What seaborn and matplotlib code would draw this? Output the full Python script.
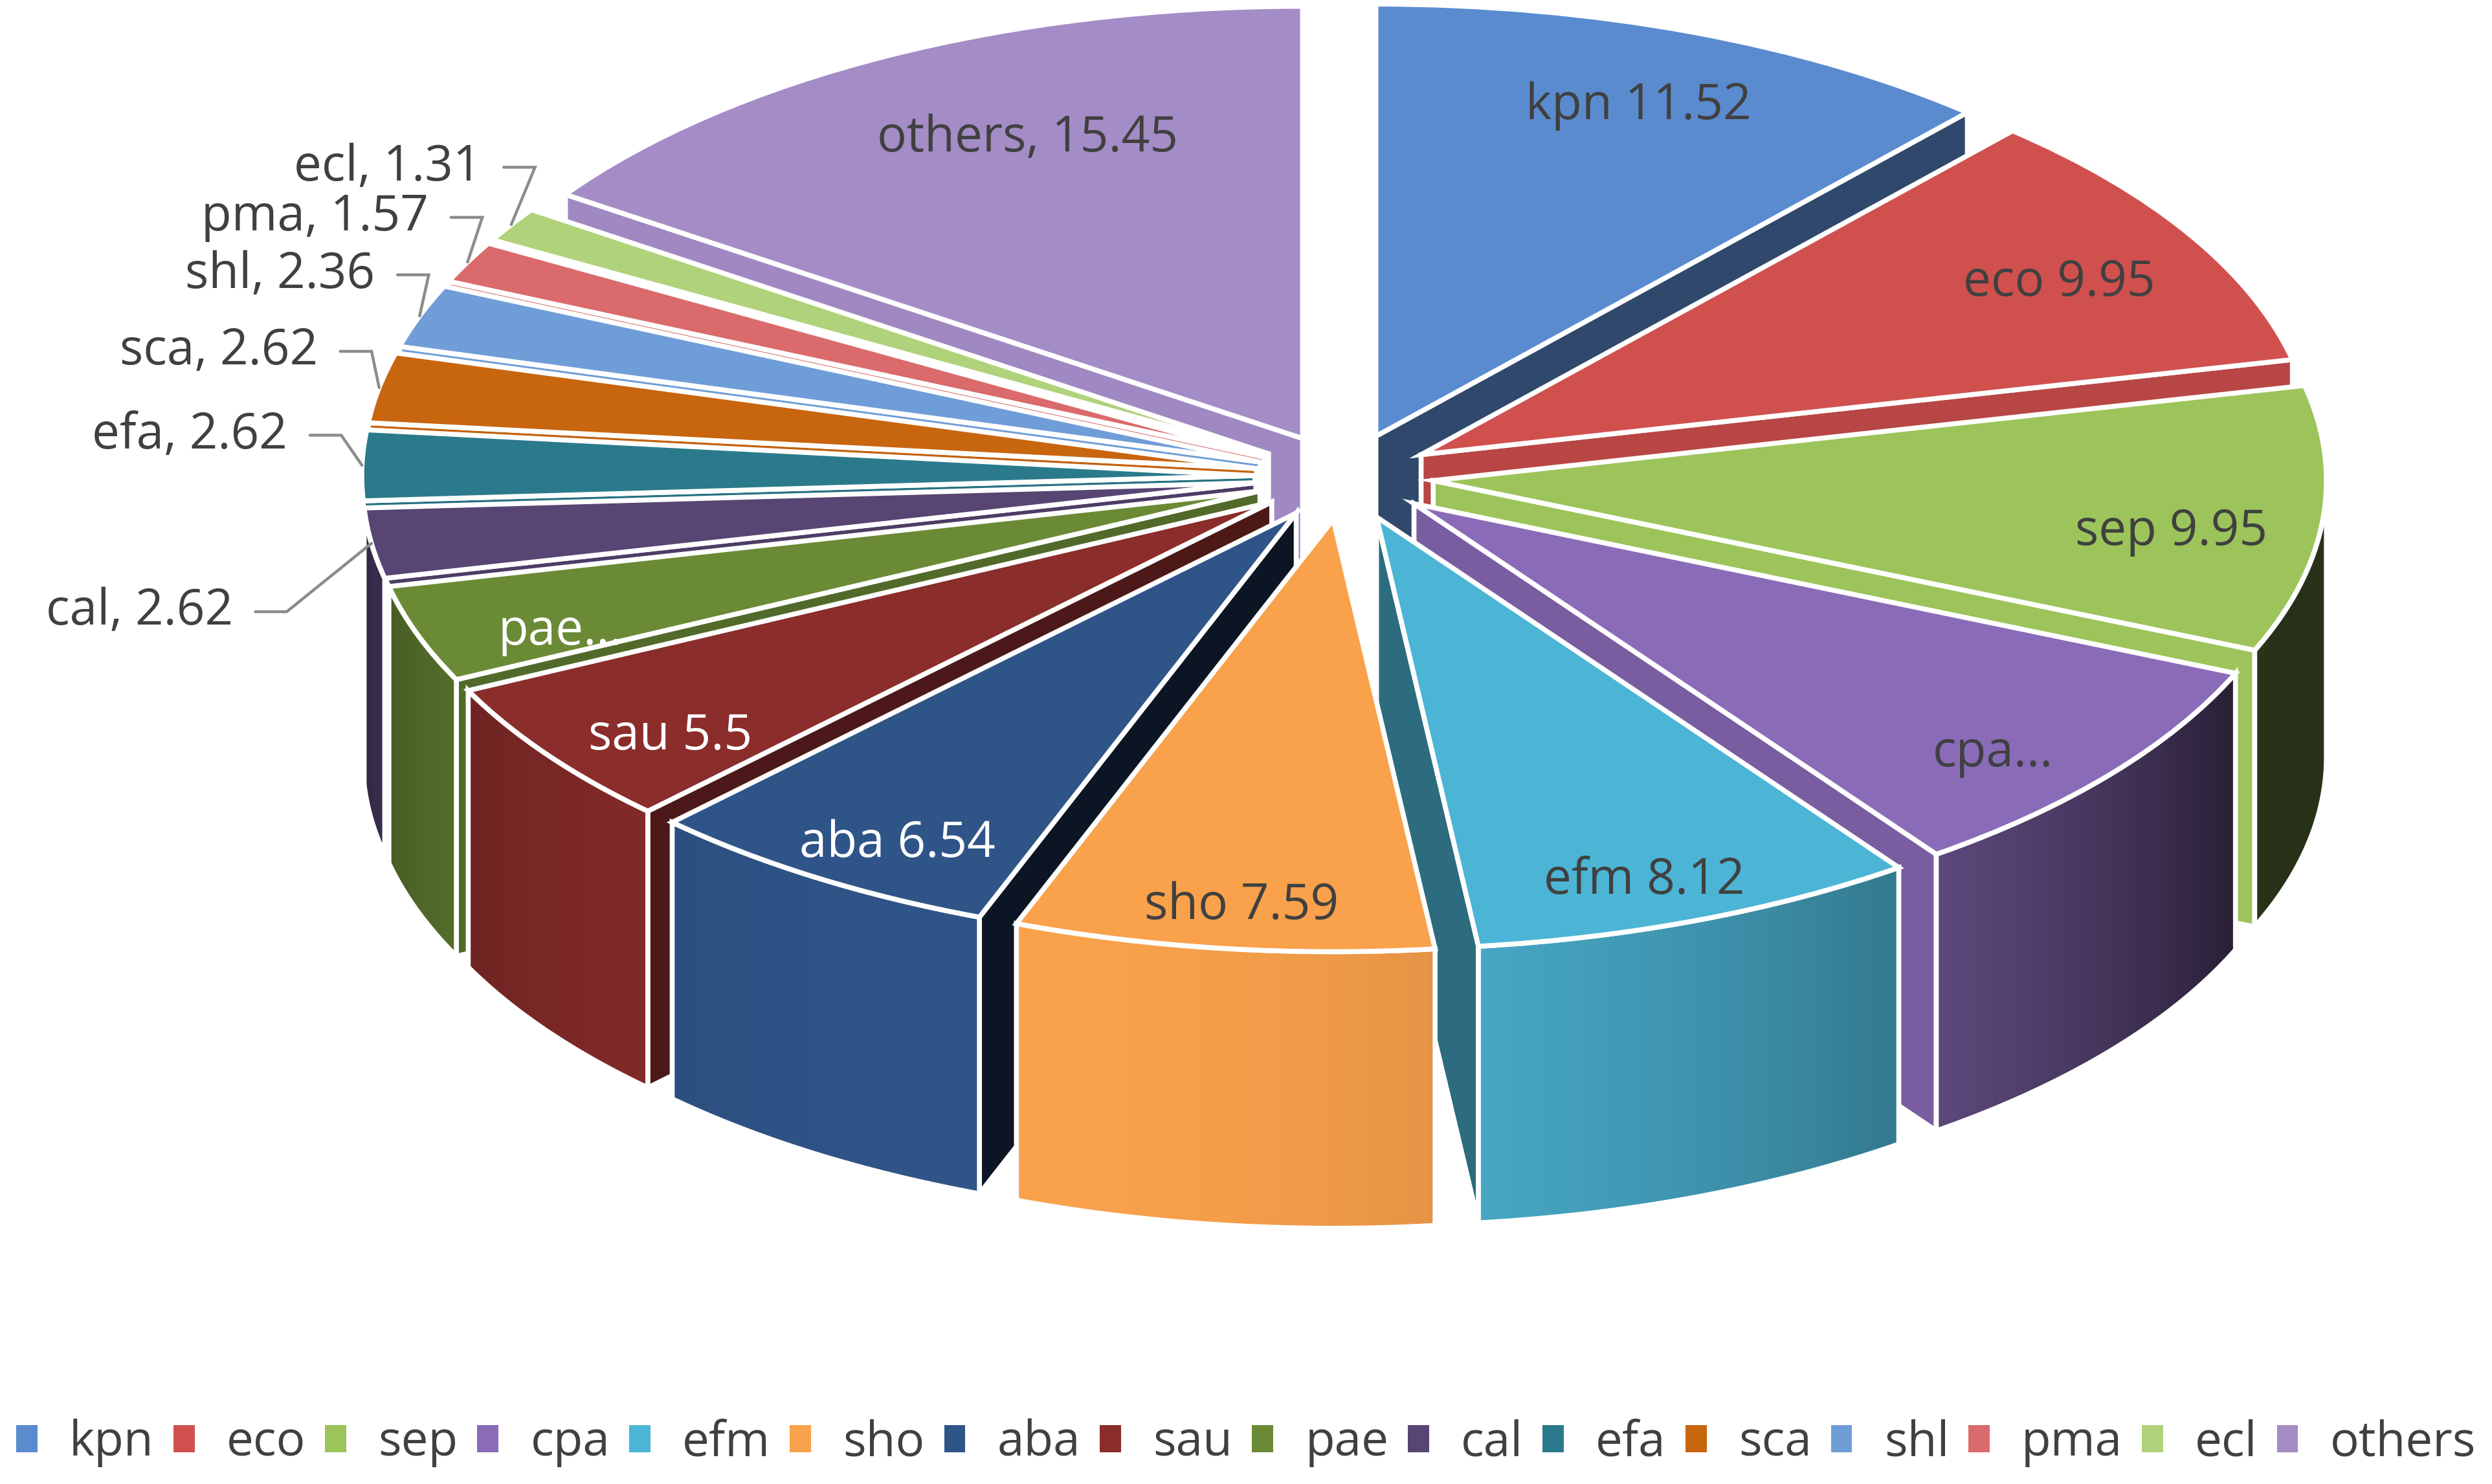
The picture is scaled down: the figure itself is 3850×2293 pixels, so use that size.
import numpy as np
import matplotlib
matplotlib.use("Agg")
import matplotlib.pyplot as plt
from matplotlib.colors import to_rgb
from matplotlib.patches import Polygon, Patch
from matplotlib.collections import PolyCollection
import seaborn as sns

# slice data (clockwise from 12 o'clock)
names = ['kpn', 'eco', 'sep', 'cpa', 'efm', 'sho', 'aba', 'sau',
         'pae', 'cal', 'efa', 'sca', 'shl', 'pma', 'ecl', 'others']
values = [11.52, 9.95, 9.95, 8.64, 8.12, 7.59, 6.54, 5.5,
          3.64, 2.62, 2.62, 2.62, 2.36, 1.57, 1.31, 15.45]
top_colors = ['#5A8BCF', '#D0504E', '#9CC45A', '#8A6BB8', '#4CB5D5', '#F9A14B',
              '#2F5488', '#8A2D2B', '#6A8A35', '#574573', '#2A7A8C', '#C8650F',
              '#6F9DD8', '#DA6A6C', '#B0D27A', '#A48CC6']

# labels Excel cut short, labels drawn outside with leader lines
truncated = ['cpa', 'pae']
white_text = ['aba', 'sau', 'pae']
outside_names = ['ecl', 'pma', 'shl', 'sca', 'efa', 'cal']
outside_text_x = [-0.966, -1.025, -1.085, -1.149, -1.183, -1.244]
outside_text_y = [0.716, 0.600, 0.467, 0.290, 0.096, -0.3125]

sns.set_theme(style="white")
plt.rcParams['font.family'] = ['Open Sans', 'DejaVu Sans']

fig = plt.figure(figsize=(15.4, 9.172), dpi=250)
ax = fig.add_axes([0, 0, 1, 1])

wedges, _ = ax.pie(values, explode=[0.1] * len(values), startangle=90,
                   counterclock=False, colors=top_colors,
                   wedgeprops=dict(edgecolor='white', linewidth=2.2))
ax.set_aspect('auto')
ax.set_xlim(-1.505, 1.285)
ax.set_ylim(-2.331, 1.103)
ax.axis('off')

depth = 0.64
light = np.array([-0.35, -0.94])
light = light / np.linalg.norm(light)


def shade(color, normal):
    f = 0.25 + 0.75 * max(0.0, float(np.dot(normal, light)))
    r, g, b = to_rgb(color)
    return (r * f, g * f, b * f)


# paint slices from back to front
centroid_y = []
for w in wedges:
    mid = np.radians((w.theta1 + w.theta2) / 2)
    centroid_y.append(w.center[1] + 0.6 * np.sin(mid))
order = np.argsort(centroid_y)[::-1]

for rank, i in enumerate(order):
    w = wedges[i]
    cx, cy = w.center
    r = w.r
    col = top_colors[i]
    z = 10 + 3 * rank
    th1, th2 = np.radians(w.theta1), np.radians(w.theta2)

    # cut faces
    for th, n in [(th1, np.array([np.sin(th1), -np.cos(th1)])),
                  (th2, np.array([-np.sin(th2), np.cos(th2)]))]:
        if n[1] < 0:
            ex, ey = cx + r * np.cos(th), cy + r * np.sin(th)
            face = Polygon([(cx, cy), (ex, ey), (ex, ey - depth), (cx, cy - depth)],
                           closed=True, facecolor=shade(col, n), edgecolor='white',
                           linewidth=2.2, zorder=z)
            ax.add_patch(face)

    # outer wall, in thin strips for the lighting gradient
    angs = np.linspace(th1, th2, 160)
    verts, cols, arc = [], [], []
    for a, b in zip(angs[:-1], angs[1:]):
        m = (a + b) / 2
        if np.sin(m) < 0:
            p1 = (cx + r * np.cos(a), cy + r * np.sin(a))
            p2 = (cx + r * np.cos(b), cy + r * np.sin(b))
            verts.append([p1, p2, (p2[0], p2[1] - depth), (p1[0], p1[1] - depth)])
            c = shade(col, np.array([np.cos(m), np.sin(m)]))
            cols.append(c)
            if not arc:
                arc.append(p1)
            arc.append(p2)
    if verts:
        ax.add_collection(PolyCollection(verts, facecolors=cols, edgecolors=cols,
                                         linewidths=0.6, zorder=z))
        arc = np.array(arc)
        outline = np.vstack([arc, arc[::-1] - [0, depth]])
        ax.add_patch(Polygon(outline, closed=True, fill=False, edgecolor='white',
                             linewidth=2.2, zorder=z + 0.5))
    w.set_zorder(z + 1)

# labels
for i, w in enumerate(wedges):
    name, val = names[i], values[i]
    mid = np.radians((w.theta1 + w.theta2) / 2)
    if name in outside_names:
        continue
    if name in truncated:
        txt = f"{name}..."
    elif name == 'others':
        txt = f"{name}, {val:g}"
    else:
        txt = f"{name} {val:g}"
    fx, fy = (0.76, 0.93) if name == 'others' else (0.93, 0.96)
    tx = fx * np.cos(mid)
    ty = fy * np.sin(mid) - 0.04
    ax.text(tx, ty, txt, ha='center', va='center', fontsize=22,
            color='white' if name in white_text else '#404040', zorder=100)

for name, tx, ty in zip(outside_names, outside_text_x, outside_text_y):
    i = names.index(name)
    w = wedges[i]
    mid = np.radians((w.theta1 + w.theta2) / 2)
    ax.text(tx, ty, f"{name}, {values[i]:g}", ha='right', va='center',
            fontsize=22, color='#404040', zorder=100)
    ex = w.center[0] + w.r * np.cos(mid)
    ey = w.center[1] + w.r * np.sin(mid)
    x0 = tx + 0.025
    ax.plot([x0, x0 + 0.035, ex], [ty, ty, ey], color='#8C8C8C', lw=1.3,
            zorder=100, solid_joinstyle='miter')

handles = [Patch(facecolor=c, edgecolor='none') for c in top_colors]
leg = fig.legend(handles, names, loc='center', bbox_to_anchor=(0.5, 0.0275),
                 ncol=len(names), frameon=False, fontsize=21.5, handlelength=0.44,
                 handleheight=0.5, handletextpad=0.66, columnspacing=0.4,
                 borderaxespad=0, borderpad=0)
for t in leg.get_texts():
    t.set_color('#404040')

fig.savefig('out.png', dpi=250, facecolor='white')
